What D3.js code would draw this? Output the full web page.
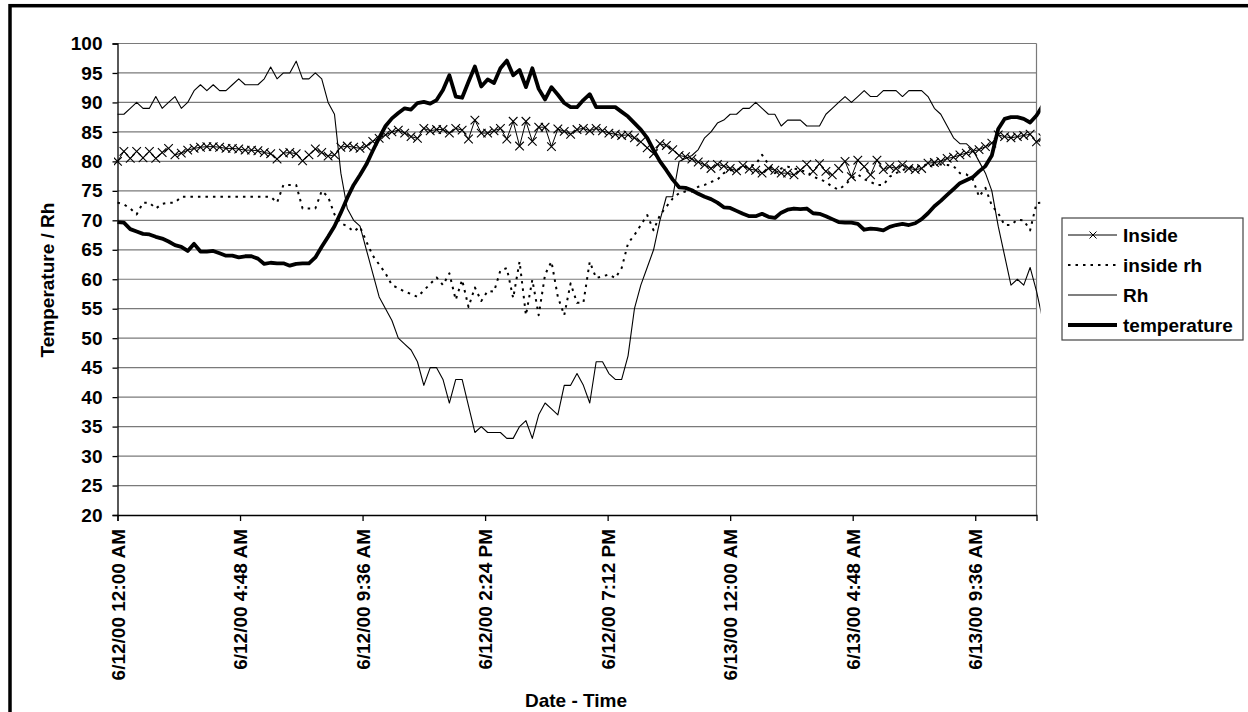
<!DOCTYPE html>
<html>
<head>
<meta charset="utf-8">
<script src="https://cdn.jsdelivr.net/npm/d3@7"></script>
<style>
  body { margin: 0; background: #fff; }
  svg text { font-family: "Liberation Sans", Arial, sans-serif; font-weight: bold; fill: #000; }
</style>
</head>
<body>
<svg id="chart" width="1248" height="712"></svg>
<script>
// readings every 15 minutes, starting 6/12/00 12:00 AM
var stepMinutes = 15;

var insideTemp = [80,81.7,80.5,81.7,80.6,81.7,80.5,81.5,82.2,81.1,81.4,81.9,82.2,82.4,82.5,82.5,82.4,82.2,82.2,82.1,
    81.9,81.9,81.8,81.5,81.3,80.4,81.4,81.5,81.3,80.1,81.1,82.1,81.5,80.9,81.1,82.4,82.6,82.4,82.2,82.6,
    83.4,83.9,84.5,85,85.3,84.8,84.2,83.9,85.6,85.2,85.4,85.4,84.8,85.6,85.3,83.8,87,84.8,84.8,85.2,
    85.6,83.8,86.8,82.6,86.8,83.4,85.8,85.8,82.5,85.5,85.1,84.6,85.4,85.6,85.2,85.6,85.2,84.8,84.6,84.4,
    84.5,84,83.3,82.3,81.3,83,82.7,82,81,80.8,80.4,79.9,79.4,78.8,79.5,79.2,78.8,78.4,79.3,78.7,
    78.5,78,78.8,78.5,78,78,77.7,78.5,79.5,78.3,79.6,78.3,77.7,78.8,80,77.4,80.2,79.1,77.7,80.2,
    78.6,79.1,78.8,79.4,78.8,78.6,78.8,79.7,79.8,80,80.5,80.7,81.1,81.4,81.7,82,82.5,83.1,84.5,84.2,
    84,84.2,84.4,84.6,83.3,84];

var insideRh = [73,72.7,72,71,73,73,72,72.8,73,73,74,74,74,74,74,74,74,74,74,74,
    74,74,74,74,74,73,76,76,76,72,72,72,75,74,71,69.5,69,68.1,68.9,66.4,
    64,62.5,61,59,58.5,57.9,57.5,57,58.1,59.2,60.3,59,61,56.5,59.9,55.3,58.6,56.3,58,57.9,
    61.5,61.9,56.8,63,53.9,59.9,53.9,60.8,63,57,53.9,59.3,56,56,63,60.2,60.5,60.8,60.2,61.9,
    66.1,67.5,69.2,70.9,68.3,70.9,72.3,73.7,74.6,74.9,74.9,75.7,76,76.5,76.9,78,78.5,78.5,79,79.2,
    79.5,81.1,79.5,78,78.8,79.1,78.8,78.5,78.2,77.4,77,76.5,75.7,75.2,76,77.1,77.8,77,76.5,76,
    76,77.4,78,78.5,79,79,79.3,79.5,79.4,79.5,79.4,79.2,78,77.8,77,74,75.5,72.5,71.2,69.2,
    69.2,70.1,70,68.3,72.9,73];

var outsideRh = [88,88,89,90,89,89,91,89,90,91,89,90,92,93,92,93,92,92,93,94,
    93,93,93,94,96,94,95,95,97,94,94,95,94,90,88,78,72,70,69,65,
    61,57,55,53,50,49,48,46,42,45,45,43,39,43,43,38.5,34,35,34,34,
    34,33,33,35,36,33,37,39,38,37,42,42,44,42,39,46,46,44,43,43,
    47,55,59,62,65,70,74,74,80,80.5,81,82,84,85,86.5,87,88,88,89,89,
    90,89,88,88,86,87,87,87,86,86,86,88,89,90,91,90,91,92,91,91,
    92,92,92,91,92,92,92,91,89,88,86,84,83,83,82,80,78,75,69,64,
    59,60,59,62,58,53];

var outsideTemp = [69.7,69.6,68.5,68.1,67.7,67.6,67.2,66.9,66.4,65.8,65.5,64.8,66,64.7,64.7,64.8,64.4,64,64,63.7,
    63.9,63.9,63.5,62.6,62.8,62.7,62.7,62.3,62.6,62.7,62.7,63.7,65.5,67.2,69,71.3,73.8,76,77.7,79.5,
    81.8,84,86,87.3,88.2,89,88.8,89.9,90.1,89.8,90.4,92.1,94.6,91,90.8,93.5,96.1,92.7,93.9,93.3,
    95.8,97.1,94.6,95.5,92.6,95.8,92.3,90.5,92.6,91.3,89.9,89.2,89.2,90.4,91.4,89.2,89.2,89.2,89.2,88.4,
    87.6,86.5,85.4,84,81.9,80,78.5,76.9,75.6,75.5,75.1,74.5,74,73.6,73,72.2,72.1,71.6,71.1,70.7,
    70.7,71.1,70.6,70.4,71.3,71.8,72,71.9,72,71.2,71.1,70.7,70.2,69.7,69.6,69.6,69.4,68.4,68.6,68.5,
    68.3,68.9,69.2,69.4,69.2,69.5,70.2,71.2,72.4,73.3,74.3,75.3,76.3,76.8,77.3,78.3,79.2,81,85.5,87.2,
    87.5,87.5,87.2,86.6,87.8,89.5];

var seriesNames = ["Inside", "inside rh", "Rh", "temperature"];

var xTickMinutes = [0, 288, 576, 864, 1152, 1440, 1728, 2016];
var xTickLabels = ["6/12/00 12:00 AM", "6/12/00 4:48 AM", "6/12/00 9:36 AM", "6/12/00 2:24 PM",
                   "6/12/00 7:12 PM", "6/13/00 12:00 AM", "6/13/00 4:48 AM", "6/13/00 9:36 AM"];
var yTicks = [20,25,30,35,40,45,50,55,60,65,70,75,80,85,90,95,100];

var svg = d3.select('#chart');

// outer chart border (right and bottom edges fall outside the picture)
svg.append('rect')
    .attr('x', 10).attr('y', 5.7)
    .attr('width', 1400).attr('height', 900)
    .attr('fill', 'none').attr('stroke', '#000').attr('stroke-width', 3.5);

var plot = {l: 117.5, r: 1036.5, t: 43.5, b: 515};

var xScale = d3.scaleLinear().domain([0, 2160]).range([plot.l, plot.r]);
var yScale = d3.scaleLinear().domain([20, 100]).range([plot.b, plot.t]);

// gridlines
svg.append('g')
    .selectAll('line')
    .data(yTicks.slice(1))
    .join('line')
    .attr('x1', plot.l).attr('x2', plot.r)
    .attr('y1', d => yScale(d)).attr('y2', d => yScale(d))
    .attr('stroke', '#7a7a7a').attr('stroke-width', 1.2);

// right frame of plot area
svg.append('line')
    .attr('x1', plot.r).attr('x2', plot.r)
    .attr('y1', plot.t).attr('y2', plot.b)
    .attr('stroke', '#7a7a7a').attr('stroke-width', 1.2);

// y axis
var yAxis = svg.append('g')
    .attr('transform', 'translate(' + plot.l + ',0)')
    .call(d3.axisLeft(yScale).tickValues(yTicks).tickSize(5).tickPadding(10));
yAxis.selectAll('text').style('font-size', '19px');

// x axis
var xAxis = svg.append('g')
    .attr('transform', 'translate(0,' + plot.b + ')')
    .call(d3.axisBottom(xScale).tickValues(xTickMinutes)
        .tickFormat((d, i) => xTickLabels[i]).tickSize(6));
xAxis.selectAll('text')
    .style('font-size', '19px')
    .attr('text-anchor', 'end')
    .attr('transform', 'rotate(-90)')
    .attr('x', -14).attr('y', 0).attr('dy', '0.35em');

[yAxis, xAxis].forEach(function(ax) {
    ax.select('.domain').attr('stroke', '#000').attr('stroke-width', 1.3);
    ax.selectAll('.tick line').attr('stroke', '#000').attr('stroke-width', 1.3);
});

// axis titles
svg.append('text')
    .attr('transform', 'translate(54,280) rotate(-90)')
    .attr('text-anchor', 'middle')
    .style('font-size', '19px')
    .text('Temperature / Rh');

svg.append('text')
    .attr('x', 576).attr('y', 707)
    .attr('text-anchor', 'middle')
    .style('font-size', '19px')
    .text('Date - Time');

// series
svg.append('clipPath').attr('id', 'plotClip')
    .append('rect').attr('x', 114).attr('y', 0).attr('width', 926.5).attr('height', 712);

var seriesG = svg.append('g').attr('clip-path', 'url(#plotClip)');

function pts(values) {
    return values.map((v, i) => ({t: i * stepMinutes, v: v}));
}
var line = d3.line().x(d => xScale(d.t)).y(d => yScale(d.v));

var styles = [
    {data: insideTemp, width: 1, dash: null},
    {data: insideRh, width: 2, dash: '2.5,5'},
    {data: outsideRh, width: 1.1, dash: null},
    {data: outsideTemp, width: 3.8, dash: null}
];

function crossPath(x, y, s) {
    return 'M' + (x - s) + ',' + (y - s) + 'L' + (x + s) + ',' + (y + s) +
           'M' + (x - s) + ',' + (y + s) + 'L' + (x + s) + ',' + (y - s);
}

styles.forEach(function(st, k) {
    seriesG.append('path')
        .datum(pts(st.data))
        .attr('fill', 'none')
        .attr('stroke', '#000')
        .attr('stroke-width', st.width)
        .attr('stroke-linejoin', 'round')
        .attr('stroke-dasharray', st.dash)
        .attr('d', line);
    if (k === 0) {
        seriesG.append('g').selectAll('path')
            .data(pts(st.data))
            .join('path')
            .attr('d', d => crossPath(xScale(d.t), yScale(d.v), 4.3))
            .attr('stroke', '#000').attr('stroke-width', 1.1).attr('fill', 'none');
    }
});

// legend
var legend = svg.append('g');
legend.append('rect')
    .attr('x', 1062).attr('y', 218).attr('width', 181).attr('height', 122)
    .attr('fill', '#fff').attr('stroke', '#444').attr('stroke-width', 1.2);

var legendRows = legend.selectAll('g.item')
    .data(seriesNames)
    .join('g')
    .attr('class', 'item')
    .attr('transform', (d, i) => 'translate(0,' + (235 + i * 30) + ')');

legendRows.append('line')
    .attr('x1', 1068).attr('x2', 1117).attr('y1', 0).attr('y2', 0)
    .attr('stroke', '#000')
    .attr('stroke-width', (d, i) => styles[i].width)
    .attr('stroke-dasharray', (d, i) => styles[i].dash);

legendRows.filter((d, i) => i === 0)
    .append('path')
    .attr('d', crossPath(1093, 0, 3.5))
    .attr('stroke', '#000').attr('stroke-width', 1);

legendRows.append('text')
    .attr('x', 1123).attr('dy', '0.35em')
    .style('font-size', '19px')
    .text(d => d);
</script>
</body>
</html>
